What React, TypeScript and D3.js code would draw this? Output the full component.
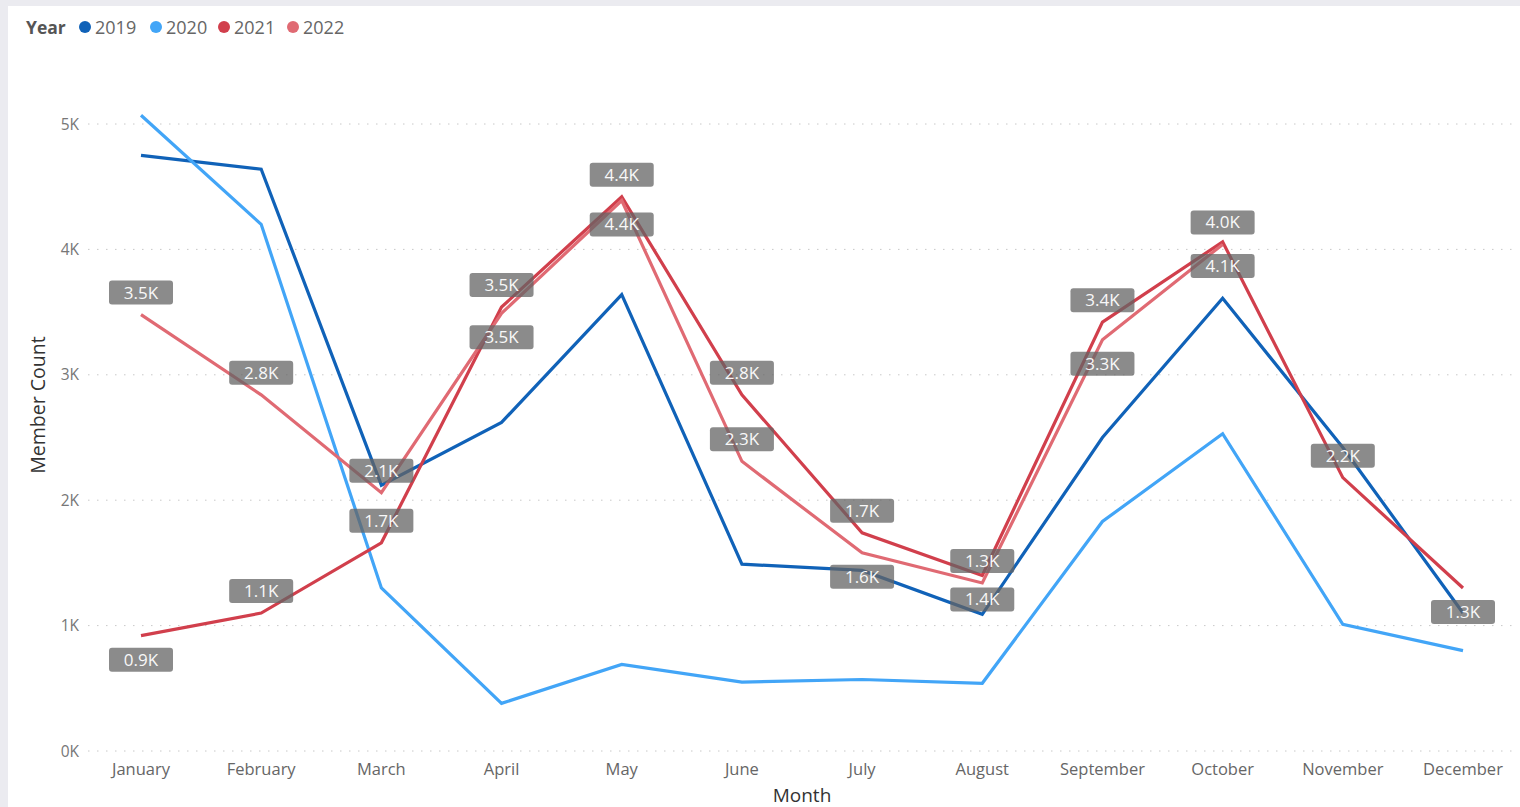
import * as d3 from 'd3';
import React from 'react';

const months = ['January', 'February', 'March', 'April', 'May', 'June', 'July', 'August', 'September', 'October', 'November', 'December'];
const years = ['2019', '2020', '2021', '2022'];

const counts2019 = [4750, 4640, 2120, 2620, 3640, 1490, 1440, 1090, 2500, 3610, 2420, 1100];
const counts2020 = [5070, 4200, 1300, 380, 690, 550, 570, 540, 1830, 2530, 1010, 800];
const counts2021 = [920, 1100, 1660, 3540, 4420, 2840, 1740, 1400, 3420, 4060, 2180, 1300];
const counts2022 = [3480, 2840, 2060, 3490, 4390, 2310, 1580, 1340, 3280, 4040];

const yTicks = [0, 1000, 2000, 3000, 4000, 5000];

// which data labels sit under the point instead of over it
const below2021 = [0, 7, 9, 11];
const below2022 = [3, 4, 6, 8];

const colors = ['#1062b8', '#42a5f7', '#d13f4c', '#e06a73'];
const font = "'Segoe UI', 'Open Sans', sans-serif";

const W = 1520, H = 807;
const margin = { top: 124, right: 57, bottom: 56, left: 141 };

function App() {
  const x = d3.scalePoint<string>()
    .domain(months)
    .range([margin.left, W - margin.right]);

  const y = d3.scaleLinear()
    .domain([0, 5000])
    .range([H - margin.bottom, margin.top]);

  const line = d3.line<number>()
    .x((d, i) => x(months[i]) as number)
    .y(d => y(d));

  const series = [counts2019, counts2020, counts2021, counts2022];
  const fmt = (v: number) => d3.format('.1f')(v / 1000) + 'K';

  const labelled = [
    { data: counts2021, below: below2021 },
    { data: counts2022, below: below2022 },
  ];

  const legendX = [85, 156, 224, 293];

  return (
    <div style={{ position: 'absolute', left: 0, top: 0 }}>
      <svg width={W} height={H} style={{ display: 'block', fontFamily: font }}>
        <rect x={0} y={0} width={W} height={H} fill="#ebebf0" />
        <rect x={8} y={6} width={W - 8} height={H - 6} fill="#ffffff" />

        {/* legend */}
        <text x={26} y={34} fontSize={17.5} fontWeight="bold" fill="#555">Year</text>
        {years.map((yr, i) => (
          <g key={yr}>
            <circle cx={legendX[i]} cy={27} r={6} fill={colors[i]} />
            <text x={legendX[i] + 10} y={34} fontSize={18} fill="#666">{yr}</text>
          </g>
        ))}

        {/* grid + y axis */}
        {yTicks.map(t => (
          <g key={t}>
            <line x1={88} x2={1512} y1={y(t)} y2={y(t)} stroke="#c8c8c8" strokeWidth={1}
              strokeDasharray="1.5 7.5" />
            <text x={79} y={y(t) + 5.5} textAnchor="end" fontSize={15.5} fill="#777">{d3.format('d')(t / 1000)}K</text>
          </g>
        ))}

        {/* x axis */}
        {months.map(m => (
          <text key={m} x={x(m)} y={775} textAnchor="middle" fontSize={16.5} fill="#666">{m}</text>
        ))}
        <text x={802} y={802} textAnchor="middle" fontSize={19} fill="#333">Month</text>
        <text transform="translate(45,405) rotate(-90)" textAnchor="middle" fontSize={19.5} fill="#333">Member Count</text>

        {/* lines */}
        {series.map((s, i) => (
          <path key={i} d={line(s) as string} fill="none" stroke={colors[i]} strokeWidth={3.2}
            strokeLinejoin="miter" />
        ))}

        {/* data labels */}
        {labelled.map((s, si) => s.data.map((v, i) => {
          const cx = x(months[i]) as number;
          const cy = y(v) + (s.below.includes(i) ? 24 : -22);
          return (
            <g key={si + '-' + i}>
              <rect x={cx - 32} y={cy - 12} width={64} height={24} rx={3} fill="#646464" fillOpacity={0.75} />
              <text x={cx} y={cy + 6} textAnchor="middle" fontSize={17} fill="#f8f8f8">{fmt(v)}</text>
            </g>
          );
        }))}
      </svg>
    </div>
  );
}

export default App;
